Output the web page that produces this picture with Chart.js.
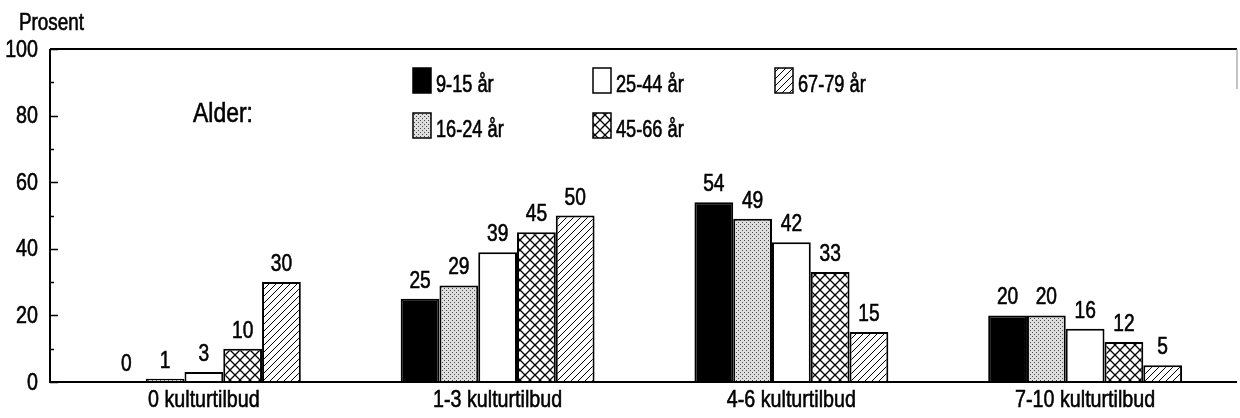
<!DOCTYPE html>
<html><head><meta charset="utf-8">
<script src="https://cdn.jsdelivr.net/npm/chart.js@4/dist/chart.umd.min.js"></script>
<style>html,body{margin:0;padding:0;background:#fff;overflow:hidden}</style>
</head><body>
<canvas id="c" width="1240" height="418" style="width:1240px;height:418px;display:block"></canvas>
<script>
// ---- data ----
const categories = ['0 kulturtilbud', '1-3 kulturtilbud', '4-6 kulturtilbud', '7-10 kulturtilbud'];
const seriesNames = ['9-15 år', '16-24 år', '25-44 år', '45-66 år', '67-79 år'];
const age9to15  = [0, 25, 54, 20];
const age16to24 = [1, 29, 49, 20];
const age25to44 = [3, 39, 42, 16];
const age45to66 = [10, 45, 33, 12];
const age67to79 = [30, 50, 15, 5];
const yTickValues = [0, 20, 40, 60, 80, 100];
const yAxisTitle = 'Prosent';
const legendTitle = 'Alder:';

const FONT = '"Liberation Sans", Arial, Helvetica, sans-serif';
const SQUEEZE = 0.8;

function makeFill(kind) {
  if (kind === 'solid') return '#000000';
  if (kind === 'white') return '#ffffff';
  const c = document.createElement('canvas');
  const x = c.getContext('2d');
  if (kind === 'dots') {
    c.width = c.height = 4;
    x.fillStyle = '#dedede'; x.fillRect(0, 0, 4, 4);
    x.fillStyle = '#4a4a4a'; x.fillRect(0, 0, 1, 1); x.fillRect(2, 2, 1, 1);
  } else if (kind === 'cross') {
    const s = 10; c.width = c.height = s;
    x.fillStyle = '#fff'; x.fillRect(0, 0, s, s);
    x.strokeStyle = '#000'; x.lineWidth = 1.3;
    x.beginPath();
    x.moveTo(0, 0); x.lineTo(s, s);
    x.moveTo(s, 0); x.lineTo(0, s);
    x.stroke();
  } else if (kind === 'hatch') {
    const s = 7; c.width = c.height = s;
    x.fillStyle = '#fff'; x.fillRect(0, 0, s, s);
    x.strokeStyle = '#000'; x.lineWidth = 1;
    x.beginPath();
    x.moveTo(-1, s + 1); x.lineTo(s + 1, -1);
    x.moveTo(-1, 1); x.lineTo(1, -1);
    x.moveTo(s - 1, s + 1); x.lineTo(s + 1, s - 1);
    x.stroke();
  }
  return x.createPattern(c, 'repeat');
}

const seriesValues = [age9to15, age16to24, age25to44, age45to66, age67to79];
const fills = ['solid', 'dots', 'white', 'cross', 'hatch'].map(makeFill);
const legendSpots = [[413, 68], [413, 113], [593, 68], [593, 113], [775, 68]];

function txt(ctx, s, x, y, size, align, baseline, sq) {
  ctx.save();
  ctx.font = size + 'px ' + FONT;
  ctx.textAlign = align;
  ctx.textBaseline = baseline || 'alphabetic';
  ctx.translate(x, y);
  ctx.scale(sq || SQUEEZE, 1);
  ctx.fillStyle = '#000';
  ctx.strokeStyle = '#000';
  ctx.lineWidth = 0.6;
  ctx.fillText(s, 0, 0);
  ctx.strokeText(s, 0, 0);
  ctx.restore();
}

const framePlugin = {
  id: 'frame',
  afterDraw(chart) {
    const { ctx, chartArea: a, scales } = chart;
    const y = scales.y, xs = scales.x;
    const L = a.left - 7, R = a.right + 5;
    ctx.save();
    ctx.strokeStyle = '#000';
    ctx.lineWidth = 2;
    ctx.beginPath();
    ctx.moveTo(L, a.top); ctx.lineTo(R, a.top);
    ctx.moveTo(L, a.top); ctx.lineTo(L, a.bottom);
    ctx.moveTo(L - 1, a.bottom); ctx.lineTo(R, a.bottom);
    ctx.stroke();
    ctx.lineWidth = 1;
    ctx.strokeStyle = '#888';
    ctx.beginPath(); ctx.moveTo(R, a.top); ctx.lineTo(R, a.top + 40); ctx.stroke();
    ctx.strokeStyle = '#000';
    ctx.lineWidth = 1.5;
    ctx.beginPath();
    for (let v = 0; v <= 100; v += 10) {
      const py = Math.round(y.getPixelForValue(v)) + 0.5;
      const len = v % 20 === 0 ? 8 : 4;
      ctx.moveTo(L, py); ctx.lineTo(L + len, py);
    }
    ctx.stroke();
    ctx.restore();

    // y tick labels
    y.ticks.forEach(t => {
      txt(ctx, String(t.value), 38, y.getPixelForValue(t.value) + 1, 24, 'right', 'middle', 0.82);
    });
    // x category labels
    xs.getLabels().forEach((lab, i) => {
      txt(ctx, lab, xs.getPixelForTick(i), 407, 24, 'center', 'alphabetic', 0.82);
    });
    // y title
    txt(ctx, yAxisTitle, 19, 30, 23, 'left', 'alphabetic', 0.82);
    // legend
    txt(ctx, legendTitle, 193, 122, 27, 'left', 'alphabetic', 0.85);
    chart.data.datasets.forEach((ds, i) => {
      const [bx, by] = legendSpots[i];
      ctx.save();
      ctx.fillStyle = ds.backgroundColor;
      ctx.fillRect(bx, by, 18, 25);
      ctx.strokeStyle = '#000'; ctx.lineWidth = 1.5;
      ctx.strokeRect(bx, by, 18, 25);
      ctx.restore();
      txt(ctx, ds.label, bx + 23, by + 24, 23, 'left', 'alphabetic', 0.79);
    });
    // value labels
    chart.data.datasets.forEach((ds, i) => {
      chart.getDatasetMeta(i).data.forEach((bar, j) => {
        txt(ctx, String(ds.data[j]), bar.x, bar.y - 11, 24, 'center', 'alphabetic', 0.8);
      });
    });
  }
};

new Chart(document.getElementById('c'), {
  type: 'bar',
  data: {
    labels: categories,
    datasets: seriesValues.map((vals, i) => ({
      label: seriesNames[i],
      data: vals,
      backgroundColor: fills[i],
      borderColor: '#000',
      borderWidth: 2,
      categoryPercentage: 0.66,
      barPercentage: 1.0
    }))
  },
  options: {
    responsive: false,
    animation: false,
    devicePixelRatio: 1,
    layout: { padding: { left: 0, top: 49, right: 8, bottom: 0 } },
    plugins: { legend: { display: false }, tooltip: { enabled: false } },
    scales: {
      x: {
        grid: { display: false, drawTicks: false },
        border: { display: false },
        ticks: { display: false },
        afterFit(s) { s.height = 36; }
      },
      y: {
        min: 0, max: 100,
        afterBuildTicks(s) { s.ticks = yTickValues.map(v => ({ value: v })); },
        grid: { display: false, drawTicks: false },
        border: { display: false },
        ticks: { display: false },
        afterFit(s) { s.width = 57; }
      }
    }
  },
  plugins: [framePlugin]
});
</script>
</body></html>
